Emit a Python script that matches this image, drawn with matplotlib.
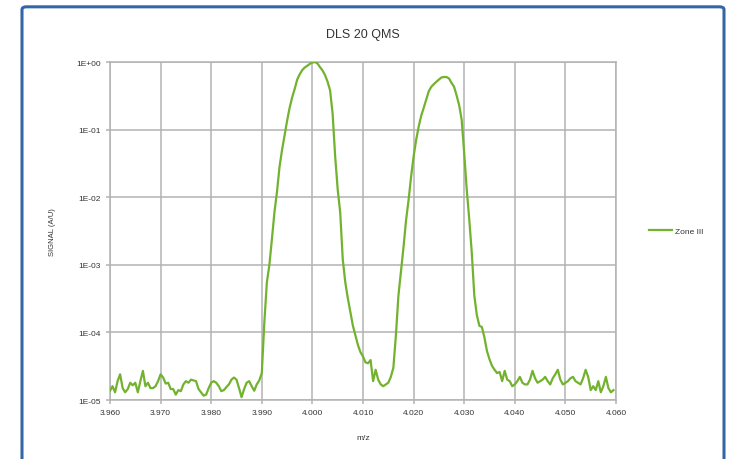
import numpy as np
import matplotlib
matplotlib.use("Agg")
import matplotlib.pyplot as plt
from matplotlib.patches import FancyBboxPatch
from matplotlib.ticker import FixedLocator, FuncFormatter

mz_start = 3.960
mz_step = 0.0005

noise_left = [
    1.37e-5, 1.6e-5, 1.3e-5, 1.9e-5, 2.4e-5, 1.5e-5, 1.3e-5, 1.45e-5, 1.8e-5, 1.65e-5,
    1.8e-5, 1.3e-5, 1.9e-5, 2.7e-5, 1.6e-5, 1.8e-5, 1.5e-5, 1.5e-5, 1.6e-5, 1.9e-5,
    2.4e-5, 2.15e-5, 1.75e-5, 1.8e-5, 1.45e-5, 1.45e-5, 1.2e-5, 1.4e-5, 1.35e-5, 1.7e-5,
    1.9e-5, 1.8e-5, 2.0e-5, 1.95e-5, 1.9e-5, 1.45e-5, 1.3e-5, 1.16e-5, 1.2e-5, 1.5e-5,
    1.8e-5, 1.9e-5, 1.8e-5, 1.6e-5, 1.35e-5, 1.4e-5, 1.55e-5, 1.7e-5, 2.0e-5, 2.15e-5,
    2.0e-5, 1.5e-5, 1.1e-5, 1.45e-5, 1.8e-5, 1.9e-5, 1.6e-5, 1.37e-5, 1.7e-5, 1.95e-5,
]
peak_one = [
    2.5e-5, 1.4e-4, 5.5e-4, 1.0e-3, 2.4e-3, 6.0e-3, 1.2e-2, 2.8e-2, 5.0e-2, 8.3e-2,
    0.135, 0.21, 0.30, 0.40, 0.55, 0.66, 0.76, 0.83, 0.88, 0.94,
    0.98, 1.0, 0.95, 0.84, 0.75, 0.64, 0.51, 0.38, 0.17, 0.04,
    0.013, 5.9e-3, 1.2e-3, 5.5e-4, 3.2e-4, 2.0e-4, 1.26e-4, 9.1e-5, 6.5e-5, 5.1e-5,
]
peak_two = [
    4.4e-5, 3.6e-5, 3.5e-5, 3.9e-5, 1.9e-5, 2.8e-5, 2.0e-5, 1.7e-5, 1.6e-5, 1.7e-5,
    1.8e-5, 2.2e-5, 3.0e-5, 9.0e-5, 3.5e-4, 8.0e-4, 1.8e-3, 4.5e-3, 9.0e-3, 2.0e-2,
    4.0e-2, 7.0e-2, 0.11, 0.16, 0.21, 0.28, 0.37, 0.43, 0.47, 0.51,
    0.55, 0.59, 0.60, 0.60, 0.57, 0.49, 0.43, 0.32, 0.23, 0.14,
    0.045, 0.013, 4.7e-3, 1.5e-3, 3.5e-4, 1.8e-4, 1.25e-4, 1.2e-4,
]
noise_right = [
    8.4e-5, 5.3e-5, 4.0e-5, 3.2e-5, 2.8e-5, 2.5e-5, 2.6e-5, 1.9e-5, 2.7e-5, 2.0e-5,
    1.9e-5, 1.6e-5, 1.7e-5, 1.9e-5, 2.2e-5, 1.8e-5, 1.7e-5, 1.7e-5, 2.0e-5, 2.7e-5,
    2.1e-5, 1.8e-5, 1.9e-5, 2.0e-5, 2.2e-5, 1.9e-5, 1.7e-5, 2.1e-5, 2.4e-5, 2.8e-5,
    2.0e-5, 1.7e-5, 1.8e-5, 1.9e-5, 2.1e-5, 2.2e-5, 1.9e-5, 1.8e-5, 1.7e-5, 2.1e-5,
    2.8e-5, 2.2e-5, 1.4e-5, 1.6e-5, 1.4e-5, 1.9e-5, 1.3e-5, 1.6e-5, 2.2e-5, 1.5e-5,
    1.3e-5, 1.4e-5,
]

x_ticks = [3.960, 3.970, 3.980, 3.990, 4.000, 4.010, 4.020, 4.030, 4.040, 4.050, 4.060]
y_ticks = [1e-5, 1e-4, 1e-3, 1e-2, 1e-1, 1e0]

series_name = "Zone III"
title = "DLS 20 QMS"
x_label = "m/z"
y_label = "SIGNAL (A/U)"

signal = np.array(noise_left + peak_one + peak_two + noise_right)
mz = np.round(mz_start + mz_step * np.arange(len(signal)), 4)

plt.rcParams["font.family"] = ["Liberation Sans", "DejaVu Sans"]

fig = plt.figure(figsize=(7.3, 4.6), dpi=100)

# blue frame round the chart (edge only, drawn on top)
frame = FancyBboxPatch((22 / 730, -0.05), 702 / 730, 1.033, transform=fig.transFigure,
                       boxstyle="round,pad=0,rounding_size=0.006",
                       facecolor="none", edgecolor="#3366a6", linewidth=2.2, zorder=5)
fig.patches.append(frame)

ax = fig.add_axes([110 / 730, 1 - 401 / 460, 506 / 730, 338 / 460])
ax.set_facecolor("none")

ax.plot(mz, signal, color="#72b22f", linewidth=1.6, label=series_name, zorder=3)

ax.set_yscale("log")
ax.set_xlim(3.960, 4.060)
ax.set_ylim(1e-5, 1e0)

ax.xaxis.set_major_locator(FixedLocator(x_ticks))
ax.xaxis.set_major_formatter(FuncFormatter(lambda v, p: f"{v:.3f}"))
ax.yaxis.set_major_locator(FixedLocator(y_ticks))
ax.yaxis.set_major_formatter(FuncFormatter(lambda v, p: f"1E{int(round(np.log10(v))):+03d}"))
ax.yaxis.set_minor_locator(FixedLocator([]))

ax.grid(True, color="#b3b3b3", linewidth=1.1)
for s in ax.spines.values():
    s.set_color("#b3b3b3")
    s.set_linewidth(1.1)
ax.tick_params(axis="both", colors="#b3b3b3", length=3, width=1.1, labelsize=6,
               labelcolor="#333333")
ax.set_axisbelow(True)

ax.set_title(title, fontsize=9, color="#333333", pad=18)
ax.set_xlabel(x_label, fontsize=6, color="#333333", labelpad=13)
ax.set_ylabel(y_label, fontsize=5.5, color="#333333", labelpad=15)

ax.legend(loc="center left", bbox_to_anchor=(1.05, 0.5), frameon=False, fontsize=6,
          handlelength=2.8, handletextpad=0.4, labelcolor="#333333")

fig.savefig("out.png", dpi=100)
